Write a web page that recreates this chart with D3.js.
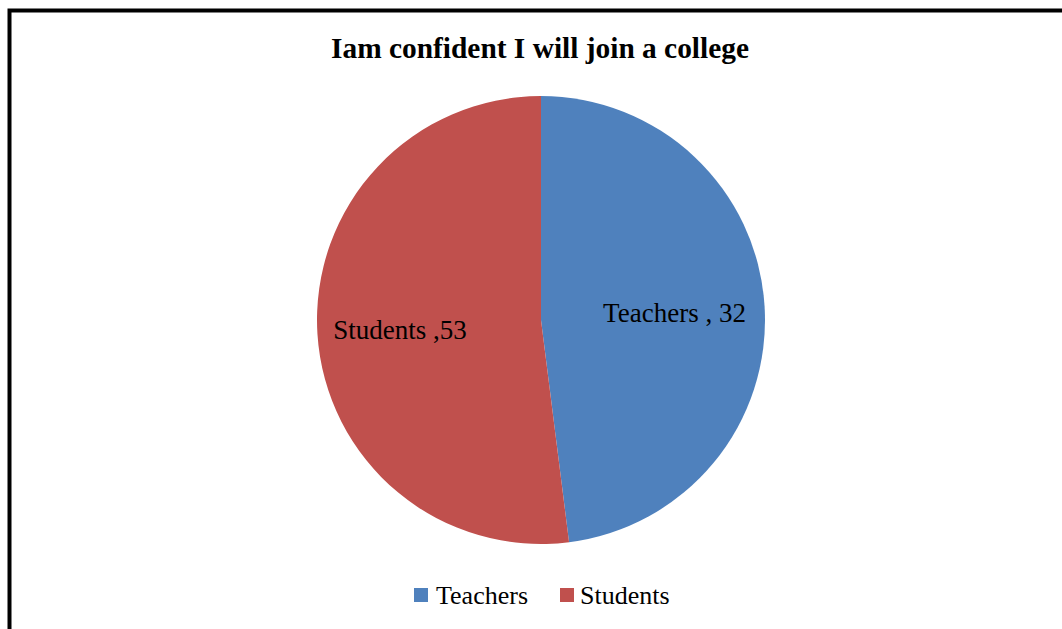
<!DOCTYPE html>
<html><head><meta charset="utf-8">
<script src="https://cdn.jsdelivr.net/npm/d3@7/dist/d3.min.js"></script>
<style>html,body{margin:0;padding:0;background:#fff;overflow:hidden}</style>
</head><body>
<svg id="c" width="1062" height="629"></svg>
<script>
const categories = ["Teachers", "Students"];
const labelValues = [32, 53];          // numbers printed in the data labels
const sliceShares = [48, 52];          // slice sizes as drawn in the picture
const colors = ["#4F81BD", "#C0504D"];
const labelTexts = ["Teachers , 32", "Students ,53"];
const title = "Iam confident I will join a college";

const svg = d3.select("#c");
const font = "'Liberation Serif','Times New Roman',serif";

// frame
svg.append("rect").attr("x", 9.5).attr("y", 10.5).attr("width", 1100).attr("height", 700)
  .attr("fill", "none").attr("stroke", "#000").attr("stroke-width", 4);

svg.append("text").attr("x", 540).attr("y", 58).attr("text-anchor", "middle")
  .attr("font-family", font).attr("font-weight", "bold").attr("font-size", 29.4)
  .text(title);

const cx = 541, cy = 320, r = 224;
const pie = d3.pie().sort(null).value(d => d.share);
const data = categories.map((c, i) => ({cat: c, share: sliceShares[i], val: labelValues[i], label: labelTexts[i], color: colors[i]}));
const arcs = pie(data);
const arc = d3.arc().innerRadius(0).outerRadius(r);
const g = svg.append("g").attr("transform", `translate(${cx},${cy})`);
g.selectAll("path").data(arcs).join("path")
  .attr("d", arc).attr("fill", d => d.data.color);

g.selectAll("text.lab").data(arcs).join("text").attr("class", "lab")
  .attr("x", (d, i) => i === 0 ? 133.5 : -141)
  .attr("y", (d, i) => i === 0 ? 2 : 19)
  .attr("text-anchor", "middle")
  .attr("font-family", font).attr("font-size", 27)
  .text(d => d.data.label);

// legend
const legX = [414, 560];
const leg = svg.append("g");
data.forEach((d, i) => {
  leg.append("rect").attr("x", legX[i]).attr("y", 588).attr("width", 14).attr("height", 14).attr("fill", d.color);
  leg.append("text").attr("x", legX[i] + (i === 0 ? 22 : 20)).attr("y", 603.5).attr("font-family", font).attr("font-size", 26).text(d.cat);
});
</script>
</body></html>
